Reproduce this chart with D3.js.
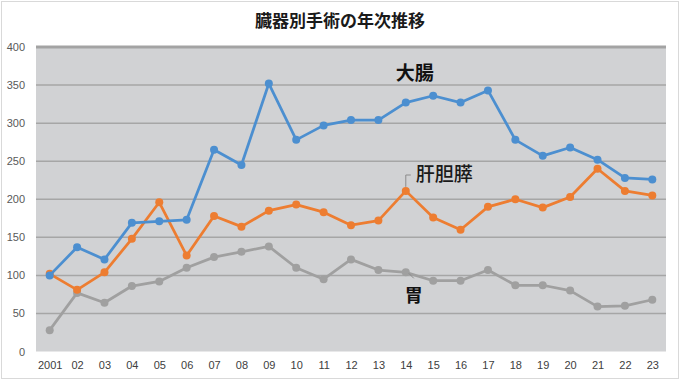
<!DOCTYPE html>
<html><head><meta charset="utf-8">
<script src="https://cdn.jsdelivr.net/npm/d3@7"></script>
<style>body{margin:0;background:#fff;}svg{display:block;}</style>
</head><body>
<svg id="c" width="680" height="381"></svg>
<script>
const years = ["2001","02","03","04","05","06","07","08","09","10","11","12","13","14","15","16","17","18","19","20","21","22","23"];
const daicho = [100,137,121,169,171,173,265,245,352,278,297,304,304,327,336,327,343,278,257,268,252,228,226];
const kantansui = [102,81,104,148,196,126,178,164,185,193,183,166,172,211,176,160,190,200,189,203,240,211,205];
const i_ = [28,77,64,86,92,110,124,131,138,110,95,121,107,104,93,93,107,87,87,80,59,60,68];
const yTicks = [0,50,100,150,200,250,300,350,400];
const title = "臓器別手術の年次推移";

const svg = d3.select("#c");
const L=36,R=666,T=47,B=351.5;
svg.append("rect").attr("x",1.5).attr("y",1.5).attr("width",677).attr("height",377).attr("fill","#fff").attr("stroke","#d9d9d9");
const x = d3.scalePoint().domain(years).range([L,R]).padding(0.5);
const y = d3.scaleLinear().domain([0,400]).range([B,T]);
svg.append("rect").attr("x",L).attr("y",T).attr("width",R-L).attr("height",B-T).attr("fill","#d1d2d4");
svg.append("g").selectAll("line").data(yTicks.filter(d=>d>0)).join("line")
  .attr("x1",L).attr("x2",R).attr("y1",d=>y(d)).attr("y2",d=>y(d))
  .attr("stroke",d=>d===400?"#a3a3a3":"#a6a6a6").attr("stroke-width",d=>d===400?3:1.5);
const yAxis = d3.axisLeft(y).tickValues(yTicks).tickSize(0).tickPadding(11);
const gy = svg.append("g").attr("transform",`translate(${L},0)`).call(yAxis);
gy.select(".domain").remove();
gy.selectAll("text").attr("font-family","Liberation Sans, Arial, sans-serif").attr("font-size",11).attr("fill","#595959");
const xAxis = d3.axisBottom(x).tickSize(0).tickPadding(10);
const gx = svg.append("g").attr("transform",`translate(0,${B})`).call(xAxis);
gx.select(".domain").remove();
gx.selectAll("text").attr("font-family","Liberation Sans, Arial, sans-serif").attr("font-size",11).attr("fill","#404040");

svg.append("text").attr("x",340).attr("y",27).attr("text-anchor","middle")
  .attr("font-family","Noto Sans CJK JP").attr("font-weight","bold").attr("font-size",17).attr("fill","#1a1a1a").text(title);

const series = [
  {v:i_, c:"#a0a0a0"},
  {v:kantansui, c:"#ed7d31"},
  {v:daicho, c:"#4c8fd0"}
];
const line = d3.line().x((d,i)=>x(years[i])).y(d=>y(d));
series.forEach(s=>{
  svg.append("path").attr("d",line(s.v)).attr("fill","none").attr("stroke",s.c).attr("stroke-width",2.75).attr("stroke-linejoin","round");
  svg.append("g").selectAll("circle").data(s.v).join("circle")
    .attr("cx",(d,i)=>x(years[i])).attr("cy",d=>y(d)).attr("r",4).attr("fill",s.c);
});

// labels
const xi = x("14");
svg.append("text").attr("x",xi-10).attr("y",80).attr("font-family","Noto Sans CJK JP").attr("font-weight","bold").attr("font-size",19).attr("fill","#111").text("大腸");
svg.append("path").attr("d",`M${xi+5},175 H${xi} V${y(kantansui[13])-4}`).attr("fill","none").attr("stroke","#8c8c8c").attr("stroke-width",1);
svg.append("text").attr("x",xi+10).attr("y",181).attr("font-family","Noto Sans CJK JP").attr("font-weight","500").attr("font-size",19).attr("fill","#1a1a1a").text("肝胆膵");
svg.append("line").attr("x1",xi+3).attr("y1",y(i_[13])+1).attr("x2",xi+8).attr("y2",y(i_[13])+6).attr("stroke","#8c8c8c").attr("stroke-width",1);
svg.append("text").attr("x",xi-1).attr("y",302).attr("font-family","Noto Sans CJK JP").attr("font-weight","bold").attr("font-size",18).attr("fill","#111").text("胃");
</script>
</body></html>
